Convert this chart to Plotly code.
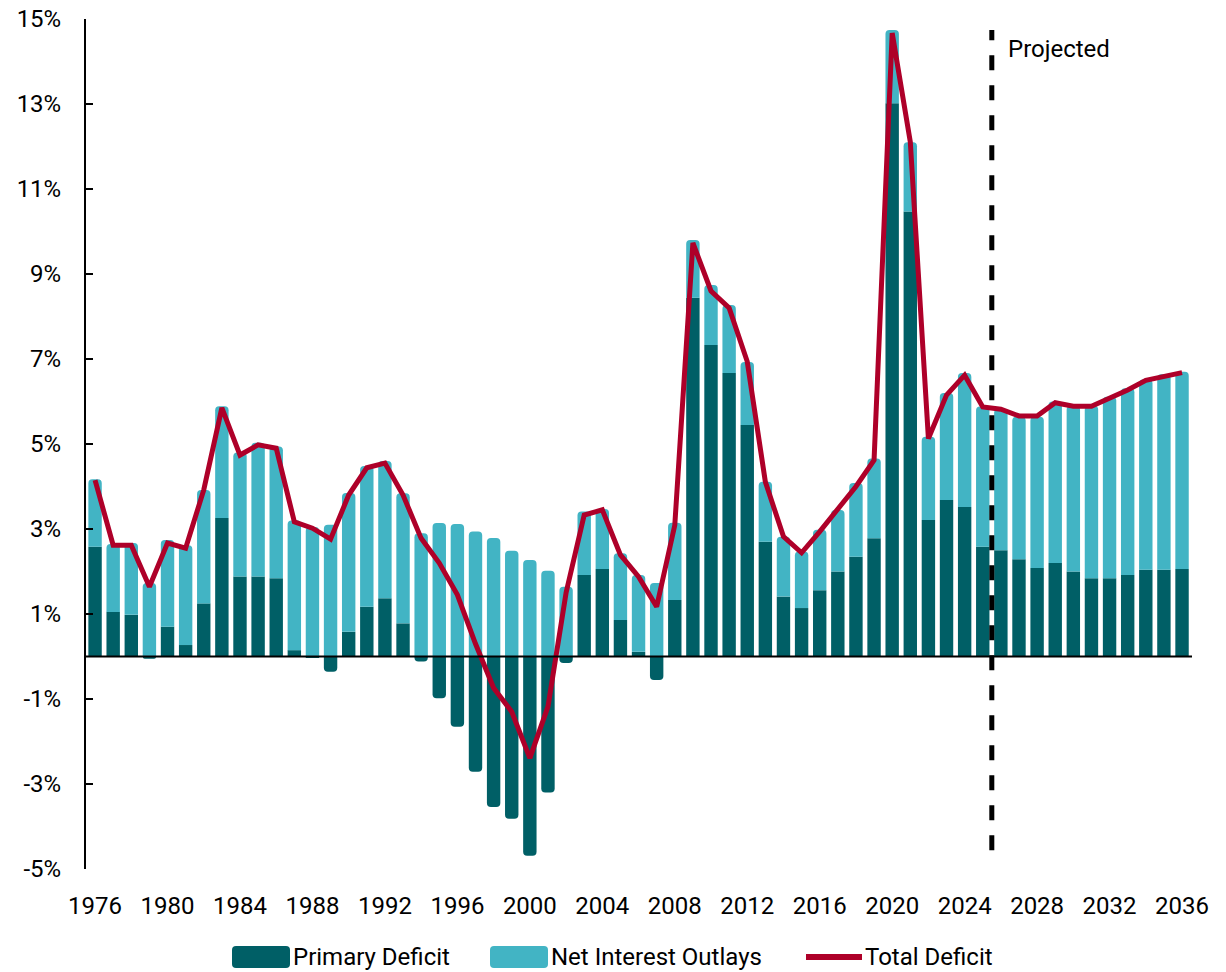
import plotly.graph_objects as go

years = list(range(1976, 2037))

# % of GDP
primary_deficit = [
    2.58, 1.05, 0.98, -0.05, 0.70, 0.27, 1.25, 3.26, 1.88, 1.88,
    1.84, 0.15, -0.02, -0.36, 0.58, 1.17, 1.37, 0.78, -0.12, -0.98,
    -1.65, -2.71, -3.54, -3.82, -4.69, -3.20, -0.15, 1.92, 2.06, 0.86,
    0.11, -0.55, 1.33, 8.44, 7.33, 6.67, 5.45, 2.70, 1.41, 1.14,
    1.56, 2.00, 2.35, 2.78, 13.02, 10.47, 3.21, 3.68, 3.52, 2.58,
    2.50, 2.29, 2.08, 2.20, 2.00, 1.84, 1.84, 1.92, 2.04, 2.04,
    2.06,
]
net_interest = [
    1.59, 1.60, 1.69, 1.73, 2.04, 2.35, 2.67, 2.63, 2.92, 3.15,
    3.10, 3.05, 3.05, 3.10, 3.27, 3.31, 3.23, 3.06, 2.90, 3.14,
    3.12, 2.94, 2.79, 2.49, 2.27, 2.02, 1.64, 1.49, 1.41, 1.57,
    1.81, 1.73, 1.82, 1.36, 1.41, 1.60, 1.48, 1.41, 1.41, 1.33,
    1.42, 1.45, 1.73, 1.88, 1.72, 1.63, 1.96, 2.52, 3.15, 3.30,
    3.33, 3.35, 3.56, 3.80, 3.90, 4.06, 4.27, 4.39, 4.48, 4.60,
    4.64,
]
total_deficit = [
    4.15, 2.62, 2.62, 1.64, 2.67, 2.55, 3.92, 5.85, 4.74, 4.98,
    4.90, 3.17, 3.02, 2.76, 3.80, 4.44, 4.55, 3.80, 2.78, 2.20,
    1.45, 0.30, -0.74, -1.30, -2.39, -1.18, 1.50, 3.33, 3.45, 2.39,
    1.88, 1.17, 3.09, 9.73, 8.60, 8.20, 6.94, 4.11, 2.82, 2.44,
    2.94, 3.45, 4.00, 4.62, 14.67, 12.11, 5.13, 6.15, 6.62, 5.87,
    5.82, 5.66, 5.66, 5.97, 5.89, 5.89, 6.08, 6.27, 6.50, 6.60,
    6.68,
]
x_ticks = list(range(1976, 2037, 4))
y_ticks = list(range(-5, 16, 2))
y_labels = [f"{v}%" for v in y_ticks]
legend_names = ["Primary Deficit", "Net Interest Outlays", "Total Deficit"]

DARK = "#005F66"
LIGHT = "#42B4C4"
RED = "#AE0029"

fig = go.Figure()
fig.add_trace(go.Bar(x=years, y=primary_deficit, name=legend_names[0],
                     marker=dict(color=DARK, line=dict(width=0)), width=0.74))
fig.add_trace(go.Bar(x=years, y=net_interest, name=legend_names[1],
                     marker=dict(color=LIGHT, line=dict(width=0)), width=0.74))
fig.add_trace(go.Scatter(x=years, y=total_deficit, name=legend_names[2], mode="lines",
                         line=dict(color=RED, width=5)))

# zero line and projection marker
fig.add_shape(type="line", xref="paper", yref="y", x0=0, x1=1, y0=0, y1=0,
              line=dict(color="black", width=2))
fig.add_shape(type="line", xref="x", yref="paper", x0=2025.5, x1=2025.5, y0=0.022, y1=0.987,
              line=dict(color="black", width=5, dash="dash"))
fig.add_annotation(x=2025.5, y=14.3, xref="x", yref="y", text="Projected",
                   showarrow=False, xanchor="left", xshift=14,
                   font=dict(size=24, color="black"))

# the page adds an 8px body margin, so margins are shifted by that much
W, H = 1226, 972
OFF = 8
ML, MT, MR, MB = 78, 11, 42, 111
PW, PH = W - ML - MR, H - MT - MB

# legend drawn by hand to get the wide rounded swatches (screen px -> paper)
def px(x):
    return (x - OFF - ML) / PW
def py(y):
    return (H - MB - (y - OFF)) / PH

def rounded_rect(x0, x1, y0, y1, rx, ry):
    return (f"M{x0+rx},{y0} L{x1-rx},{y0} Q{x1},{y0} {x1},{y0+ry} L{x1},{y1-ry} "
            f"Q{x1},{y1} {x1-rx},{y1} L{x0+rx},{y1} Q{x0},{y1} {x0},{y1-ry} "
            f"L{x0},{y0+ry} Q{x0},{y0} {x0+rx},{y0} Z")

leg_y = 957
for name, color, sx in [(legend_names[0], DARK, 232), (legend_names[1], LIGHT, 490)]:
    fig.add_shape(type="path", xref="paper", yref="paper", layer="above",
                  path=rounded_rect(px(sx), px(sx + 58), py(leg_y + 11), py(leg_y - 11),
                                    4 / PW, 4 / PH),
                  fillcolor=color, line=dict(width=0))
    fig.add_annotation(x=px(sx + 59), y=py(leg_y), xref="paper", yref="paper", text=name,
                       showarrow=False, xanchor="left", yanchor="middle", font=dict(size=24))
fig.add_shape(type="line", xref="paper", yref="paper", x0=px(806), x1=px(862),
              y0=py(leg_y), y1=py(leg_y), line=dict(color=RED, width=6))
fig.add_annotation(x=px(863), y=py(leg_y), xref="paper", yref="paper", text=legend_names[2],
                   showarrow=False, xanchor="left", yanchor="middle", font=dict(size=24))

fig.update_layout(
    width=W, height=H,
    barmode="relative",
    barcornerradius=4,
    plot_bgcolor="white", paper_bgcolor="white",
    font=dict(family="Roboto, Arial, sans-serif", size=24, color="black"),
    margin=dict(l=ML, r=MR, t=MT, b=MB, autoexpand=False),
    showlegend=False,
)
fig.update_xaxes(range=[1975.5, 2036.55], tickvals=x_ticks, showgrid=False,
                 showline=False, zeroline=False, ticks="", ticklabelstandoff=20,
                 ticklabeloverflow="allow", tickfont=dict(size=24))
fig.update_yaxes(range=[-5, 15], tickvals=y_ticks, ticktext=y_labels, showgrid=False,
                 showline=True, linecolor="black", linewidth=2, ticks="inside",
                 ticklen=7, tickwidth=2, tickcolor="black", zeroline=False,
                 ticklabelstandoff=18, ticklabeloverflow="allow", tickfont=dict(size=24))

fig.write_html("out.html")
